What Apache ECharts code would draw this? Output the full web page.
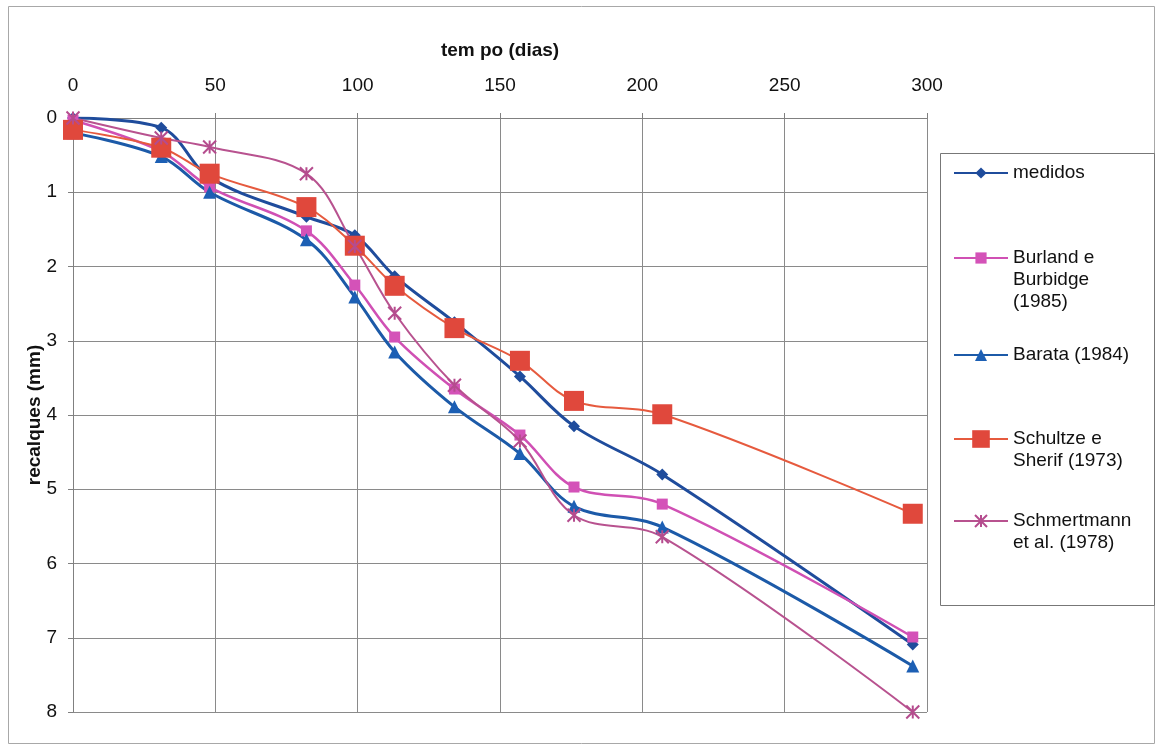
<!DOCTYPE html>
<html lang="pt">
<head>
<meta charset="UTF-8" />
<title>recalques x tempo</title>
<style>
  html, body { margin: 0; padding: 0; background: #fff; }
  #main { width: 1157px; height: 749px; }
</style>
</head>
<body>
<div id="main"></div>
<script src="https://cdn.jsdelivr.net/npm/echarts@6.0.0/dist/echarts.min.js"></script>
<script>
// tempo (dias)
const dias = [0, 31, 48, 82, 99, 113, 134, 157, 176, 207, 295]

// recalques (mm)
const medidos = [0, 0.13, 0.8, 1.33, 1.58, 2.13, 2.75, 3.48, 4.15, 4.8, 7.09]
const burland = [0.03, 0.45, 0.93, 1.52, 2.25, 2.95, 3.65, 4.27, 4.97, 5.2, 6.99]
const barata = [0.2, 0.52, 1.0, 1.64, 2.41, 3.15, 3.89, 4.52, 5.23, 5.51, 7.38]
const schultze = [0.16, 0.4, 0.75, 1.2, 1.72, 2.26, 2.83, 3.27, 3.81, 3.99, 5.33]
const schmertmann = [0, 0.27, 0.39, 0.75, 1.73, 2.63, 3.6, 4.35, 5.35, 5.64, 8.0]

const nomes = ['medidos', 'Burland e Burbidge (1985)', 'Barata (1984)', 'Schultze e Sherif (1973)', 'Schmertmann et al. (1978)']
const rotulos = ['medidos', 'Burland e\nBurbidge\n(1985)', 'Barata (1984)', 'Schultze e\nSherif (1973)', 'Schmertmann\net al. (1978)']
const valores = [medidos, burland, barata, schultze, schmertmann]

const xTicks = [0, 300, 50]
const yTicks = [0, 8, 1]

const font = '"Liberation Sans", Arial, sans-serif'
const lineH = 22

// estilo de cada serie
const estilos = [
  { color: '#1F4C9C', line: '#1F4C9C', symbol: 'diamond', size: 12, width: 3, iconH: 14, legendY: 173 },
  { color: '#D452B8', line: '#D050B4', symbol: 'rect', size: 11, width: 2.5, iconH: 14, legendY: 258 },
  { color: '#1C5FB4', line: '#1C5AA8', symbol: 'triangle', size: 13, width: 3, iconH: 15, legendY: 355 },
  { color: '#E0483C', line: '#E65A3E', symbol: 'rect', size: 20, width: 2, iconH: 22, legendY: 439 },
  { color: '#B54C8E', line: '#B8528F', symbol: 'path://M0,0L10,10M10,0L0,10M5,0L5,10', size: 13, width: 2, iconH: 15, legendY: 521, cross: true }
]

const chart = echarts.init(document.getElementById('main'))

const series = valores.map((vals, i) => {
  const s = estilos[i]
  return {
    name: nomes[i],
    type: 'line',
    smooth: 0.35,
    data: dias.map((d, j) => [d, vals[j]]),
    symbol: s.symbol,
    symbolSize: s.size,
    showAllSymbol: true,
    lineStyle: { color: s.line, width: s.width },
    itemStyle: s.cross
      ? { color: s.color, borderColor: s.color, borderWidth: 2 }
      : { color: s.color, borderWidth: 0 },
    emphasis: { disabled: true }
  }
})

// legenda: uma por serie, primeira linha do texto alinhada ao icone
const legends = estilos.map((s, i) => {
  const n = rotulos[i].split('\n').length
  const boxH = (2 * n - 1) * lineH
  const texto = '\n'.repeat(n - 1) + rotulos[i]
  return {
    left: 953,
    top: s.legendY - Math.max(boxH, s.iconH) / 2,
    orient: 'vertical',
    padding: 0,
    itemWidth: 54,
    itemHeight: s.iconH,
    selectedMode: false,
    data: [nomes[i]],
    formatter: () => texto,
    textStyle: { fontSize: 19, lineHeight: lineH, color: '#111', fontFamily: font }
  }
})

const option = {
  backgroundColor: '#fff',
  animation: false,
  grid: { left: 73, top: 118, right: 230, bottom: 37 },
  xAxis: {
    type: 'value',
    position: 'top',
    min: xTicks[0],
    max: xTicks[1],
    interval: xTicks[2],
    name: 'tem po (dias)',
    nameLocation: 'middle',
    nameGap: 58,
    nameTextStyle: { fontSize: 19, fontWeight: 'bold', color: '#111', fontFamily: font },
    axisLine: { show: true, lineStyle: { color: '#808080', width: 1 } },
    axisTick: { show: true, length: 5, lineStyle: { color: '#808080' } },
    axisLabel: { fontSize: 19, color: '#111', margin: 23, fontFamily: font },
    splitLine: { show: true, lineStyle: { color: '#8a8a8a', width: 1 } }
  },
  yAxis: {
    type: 'value',
    inverse: true,
    min: yTicks[0],
    max: yTicks[1],
    interval: yTicks[2],
    name: 'recalques (mm)',
    nameLocation: 'middle',
    nameRotate: 90,
    nameGap: 29,
    nameMoveOverlap: false,
    nameTextStyle: { fontSize: 19, fontWeight: 'bold', color: '#111', fontFamily: font },
    axisLine: { show: true, lineStyle: { color: '#808080', width: 1 } },
    axisTick: { show: true, length: 5, lineStyle: { color: '#808080' } },
    axisLabel: { fontSize: 19, color: '#111', margin: 16, fontFamily: font },
    splitLine: { show: true, lineStyle: { color: '#8a8a8a', width: 1 } }
  },
  legend: legends,
  series: series,
  graphic: [
    // moldura externa
    { type: 'rect', shape: { x: 8.5, y: 6.5, width: 1146, height: 737 }, style: { fill: 'none', stroke: '#a8a8a8', lineWidth: 1 }, silent: true },
    // caixa da legenda
    { type: 'rect', shape: { x: 940.5, y: 153.5, width: 214, height: 452 }, style: { fill: 'none', stroke: '#777', lineWidth: 1 }, silent: true }
  ]
}

chart.setOption(option)
</script>
</body>
</html>
